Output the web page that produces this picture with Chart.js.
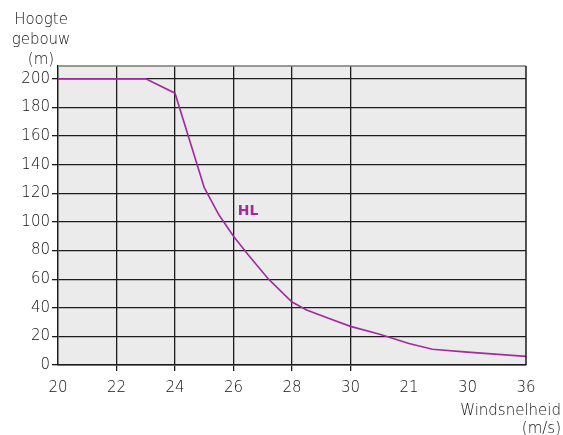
<!DOCTYPE html>
<html>
<head>
<meta charset="utf-8">
<script src="https://cdn.jsdelivr.net/npm/chart.js@4/dist/chart.umd.min.js"></script>
<style>
  html, body { margin: 0; padding: 0; background: #fff; }
  #wrap { width: 563px; height: 435px; }
</style>
</head>
<body>
<div id="wrap"><canvas id="chart"></canvas></div>
<script>
// windsnelheid (m/s) vs hoogte gebouw (m)
const windSpeed = [20, 23, 24, 25, 25.5, 26, 26.5, 27.2, 28, 28.5, 29.2, 30, 31, 32, 32.8, 34, 36];
const buildingHeight = [200, 200, 190, 124, 105, 90, 77, 60, 44, 38.5, 33, 27, 21.5, 15, 11, 9, 6];

const xTickLabels = ['20', '22', '24', '26', '28', '30', '21', '30', '36'];
const yTitle = ['Hoogte', 'gebouw', '(m)'];
const xTitle = ['Windsnelheid', '(m/s)'];
const curveLabel = { text: 'HL', x: 26.5, y: 107.5 };

const purple = '#a22a9e';
const ink = '#1c1c1c';
const textCol = '#111';
const FONT = '"DejaVu Sans", sans-serif';
const WEIGHT = 200;

// grey plot background + top/right frame
const frame = {
  id: 'frame',
  beforeDraw(chart) {
    const { ctx, chartArea: a } = chart;
    ctx.save();
    ctx.fillStyle = '#ebebeb';
    ctx.fillRect(a.left, a.top, a.right - a.left, a.bottom - a.top);
    ctx.restore();
  },
  afterDatasetsDraw(chart) {
    const { ctx, chartArea: a } = chart;
    ctx.save();
    ctx.lineWidth = 1.5;
    ctx.strokeStyle = '#7a7a7a';
    ctx.beginPath();
    ctx.moveTo(a.left, a.top);
    ctx.lineTo(a.right, a.top);
    ctx.stroke();
    ctx.strokeStyle = ink;
    ctx.beginPath();
    ctx.moveTo(a.right, a.top);
    ctx.lineTo(a.right, a.bottom);
    ctx.stroke();
    ctx.restore();
  }
};

// axis titles and the HL label
const texts = {
  id: 'texts',
  afterDraw(chart) {
    const { ctx, scales } = chart;
    ctx.save();
    ctx.fillStyle = textCol;
    ctx.font = WEIGHT + ' 15px ' + FONT;
    ctx.textBaseline = 'middle';
    ctx.textAlign = 'center';
    yTitle.forEach((t, i) => ctx.fillText(t, 41, 20 + i * 20));
    ctx.textAlign = 'right';
    xTitle.forEach((t, i) => ctx.fillText(t, 561, 411 + i * 18));

    ctx.fillStyle = purple;
    ctx.font = 'bold 14px ' + FONT;
    ctx.textAlign = 'center';
    ctx.fillText(curveLabel.text, scales.x.getPixelForValue(curveLabel.x), scales.y.getPixelForValue(curveLabel.y));
    ctx.restore();
  }
};

new Chart(document.getElementById('chart'), {
  type: 'line',
  data: {
    datasets: [{
      data: windSpeed.map((v, i) => ({ x: v, y: buildingHeight[i] })),
      borderColor: purple,
      borderWidth: 1.6,
      pointRadius: 0,
      tension: 0,
      fill: false
    }]
  },
  options: {
    responsive: true,
    maintainAspectRatio: false,
    animation: false,
    layout: { padding: { top: 66, right: 37, left: 0, bottom: 0 } },
    plugins: { legend: { display: false }, tooltip: { enabled: false } },
    scales: {
      x: {
        type: 'linear',
        min: 20,
        max: 36,
        afterFit(scale) { scale.height = 70; },
        ticks: {
          stepSize: 2,
          padding: 8,
          color: textCol,
          font: { family: FONT, size: 15, weight: WEIGHT },
          maxRotation: 0,
          callback: (v, i) => xTickLabels[i]
        },
        grid: {
          color: c => (c.index >= 1 && c.index <= 5) ? ink : 'rgba(0,0,0,0)',
          lineWidth: 1.3,
          tickLength: 6
        },
        border: { color: ink, width: 1.5 }
      },
      y: {
        min: 0,
        max: 209,
        afterFit(scale) { scale.width = 58; },
        ticks: {
          stepSize: 20,
          includeBounds: false,
          padding: 2,
          color: textCol,
          font: { family: FONT, size: 15, weight: WEIGHT }
        },
        grid: {
          color: ink,
          lineWidth: 1.3,
          tickLength: 6
        },
        border: { color: ink, width: 1.5 }
      }
    }
  },
  plugins: [frame, texts]
});
</script>
</body>
</html>
